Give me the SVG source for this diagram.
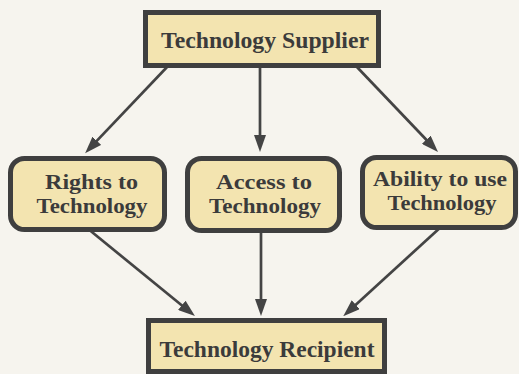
<svg xmlns="http://www.w3.org/2000/svg" width="519" height="374" viewBox="0 0 519 374">
  <style>
    .box { fill: #f3e4b0; stroke: #3f3f3f; stroke-width: 5; }
    .lbl { font-family: "Liberation Serif", "Times New Roman", serif; font-weight: bold; font-size: 24px; fill: #3b3b3b; text-anchor: middle; }
    .two { font-size: 21.5px; }
    .conn { stroke: #444444; stroke-width: 2.7; fill: none; marker-end: url(#arrow); }
  </style>
  <defs>
    <marker id="arrow" viewBox="0 0 17 12" refX="7" refY="6" markerWidth="17" markerHeight="12" markerUnits="userSpaceOnUse" orient="auto">
      <path d="M0,0 L17,6 L0,12 z" fill="#444444"/>
    </marker>
  </defs>

  <rect width="519" height="374" fill="#f6f4ee"/>

  <!-- connectors -->
  <g id="connectors">
    <line class="conn" x1="168" y1="66" x2="92" y2="145.9"/>
    <line class="conn" x1="260" y1="66" x2="260" y2="142"/>
    <line class="conn" x1="356" y1="66" x2="431.1" y2="144.8"/>
    <line class="conn" x1="87" y1="228" x2="187.2" y2="309.8"/>
    <line class="conn" x1="261" y1="229" x2="261" y2="306"/>
    <line class="conn" x1="442" y1="226" x2="350.6" y2="309.4"/>
  </g>

  <!-- nodes -->
  <g id="supplier">
    <rect class="box" x="145.5" y="12.5" width="233" height="53"/>
    <text class="lbl" x="265" y="48" textLength="208" lengthAdjust="spacingAndGlyphs">Technology Supplier</text>
  </g>

  <g id="rights">
    <rect class="box" x="10.5" y="158.5" width="154" height="71" rx="14"/>
    <text class="lbl two" x="91.5" y="189" textLength="93" lengthAdjust="spacingAndGlyphs">Rights to</text>
    <text class="lbl two" x="92" y="213" textLength="111" lengthAdjust="spacingAndGlyphs">Technology</text>
  </g>

  <g id="access">
    <rect class="box" x="187.5" y="158.5" width="152" height="72" rx="14"/>
    <text class="lbl two" x="264" y="189" textLength="96" lengthAdjust="spacingAndGlyphs">Access to</text>
    <text class="lbl two" x="265" y="213" textLength="112" lengthAdjust="spacingAndGlyphs">Technology</text>
  </g>

  <g id="ability">
    <rect class="box" x="362.5" y="157.5" width="153" height="70" rx="14"/>
    <text class="lbl two" x="440" y="186" textLength="134" lengthAdjust="spacingAndGlyphs">Ability to use</text>
    <text class="lbl two" x="442" y="210" textLength="109" lengthAdjust="spacingAndGlyphs">Technology</text>
  </g>

  <g id="recipient">
    <rect class="box" x="148.5" y="320.5" width="236" height="51"/>
    <text class="lbl" x="267" y="357" textLength="215" lengthAdjust="spacingAndGlyphs">Technology Recipient</text>
  </g>
</svg>
